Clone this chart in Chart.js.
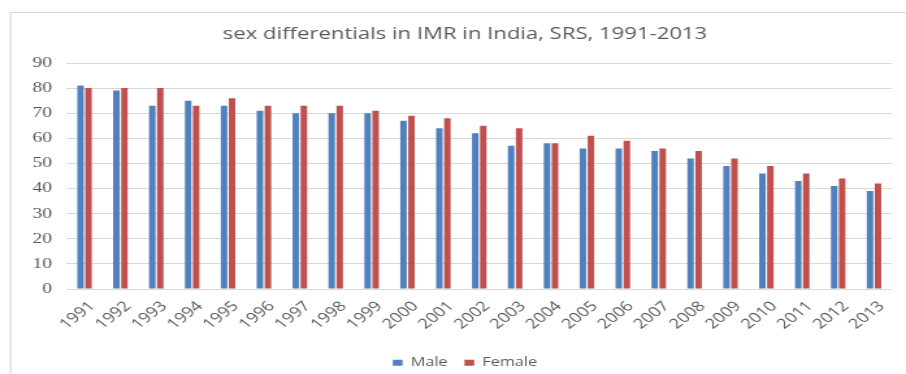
<!DOCTYPE html>
<html>
<head>
<meta charset="utf-8">
<script src="https://cdn.jsdelivr.net/npm/chart.js@4/dist/chart.umd.min.js"></script>
<style>
  html, body { margin: 0; padding: 0; background: #fff; overflow: hidden; }
</style>
</head>
<body>
<!-- drawn narrow and shown widened, like the stretched original -->
<canvas id="imrChart" width="697" height="374" style="display:block;width:906px;height:374px"></canvas>
<script>
// infant mortality rate by sex, SRS
const years = ["1991", "1992", "1993", "1994", "1995", "1996", "1997", "1998",
  "1999", "2000", "2001", "2002", "2003", "2004", "2005", "2006", "2007",
  "2008", "2009", "2010", "2011", "2012", "2013"];
const male = [81, 79, 73, 75, 73, 71, 70, 70, 70, 67, 64, 62, 57, 58, 56, 56,
  55, 52, 49, 46, 43, 41, 39];
const female = [80, 80, 80, 73, 76, 73, 73, 73, 71, 69, 68, 65, 64, 58, 61, 59,
  56, 55, 52, 49, 46, 44, 42];
const yTicks = [0, 10, 20, 30, 40, 50, 60, 70, 80, 90];

const grey = "#595959";

// light frame around the whole chart
const framePlugin = {
  id: "frame",
  beforeDraw(chart) {
    const ctx = chart.ctx;
    ctx.save();
    ctx.strokeStyle = "#d9d9d9";
    ctx.lineWidth = 1.2;
    ctx.beginPath();
    ctx.moveTo(8.1, 380);
    ctx.lineTo(8.1, 12.5);
    ctx.lineTo(700, 12.5);
    ctx.stroke();
    ctx.restore();
  }
};

new Chart(document.getElementById("imrChart"), {
  type: "bar",
  data: {
    labels: years,
    datasets: [
      { label: "Male", data: male, backgroundColor: "#4F81BD", borderWidth: 0 },
      { label: "Female", data: female, backgroundColor: "#C0504D", borderWidth: 0 }
    ]
  },
  options: {
    responsive: false,
    animation: false,
    categoryPercentage: 0.446,
    barPercentage: 0.81,
    // title and legend are centred on the full frame, which runs past the right edge
    layout: { padding: { left: 8, right: -10.4, top: 0, bottom: -5 } },
    plugins: {
      title: {
        display: true,
        text: "sex differentials in IMR in India, SRS, 1991-2013",
        color: grey,
        font: { family: "Open Sans", size: 17, weight: "normal" },
        padding: { top: 24, bottom: 18.6 }
      },
      legend: {
        position: "bottom",
        labels: {
          color: grey,
          font: { family: "Open Sans", size: 12.5 },
          boxWidth: 7.5,
          boxHeight: 6,
          padding: 13
        }
      },
      tooltip: { enabled: false }
    },
    scales: {
      x: {
        grid: { display: false, drawTicks: false },
        border: { display: false },
        ticks: {
          color: grey,
          font: { family: "Open Sans", size: 14 },
          minRotation: 45,
          maxRotation: 45,
          autoSkip: false,
          labelOffset: 6,
          padding: 9
        },
        afterFit(scale) { scale.height = 54.5; }
      },
      y: {
        min: 0,
        max: 90,
        grid: { color: "#d9d9d9", lineWidth: 1, drawTicks: false },
        border: { display: false },
        afterBuildTicks(scale) {
          scale.ticks = yTicks.map(v => ({ value: v }));
        },
        ticks: {
          color: grey,
          font: { family: "Liberation Serif", size: 15 },
          padding: 11.2
        },
        afterFit(scale) { scale.width = 43.2; }
      },
      // empty spacer on the right edge of the plot
      spacer: {
        type: "linear",
        position: "right",
        min: 0,
        max: 1,
        grid: { display: false, drawTicks: false },
        border: { display: false },
        ticks: { display: false },
        afterFit(scale) { scale.width = 21.2; }
      }
    }
  },
  plugins: [framePlugin]
});
</script>
</body>
</html>
